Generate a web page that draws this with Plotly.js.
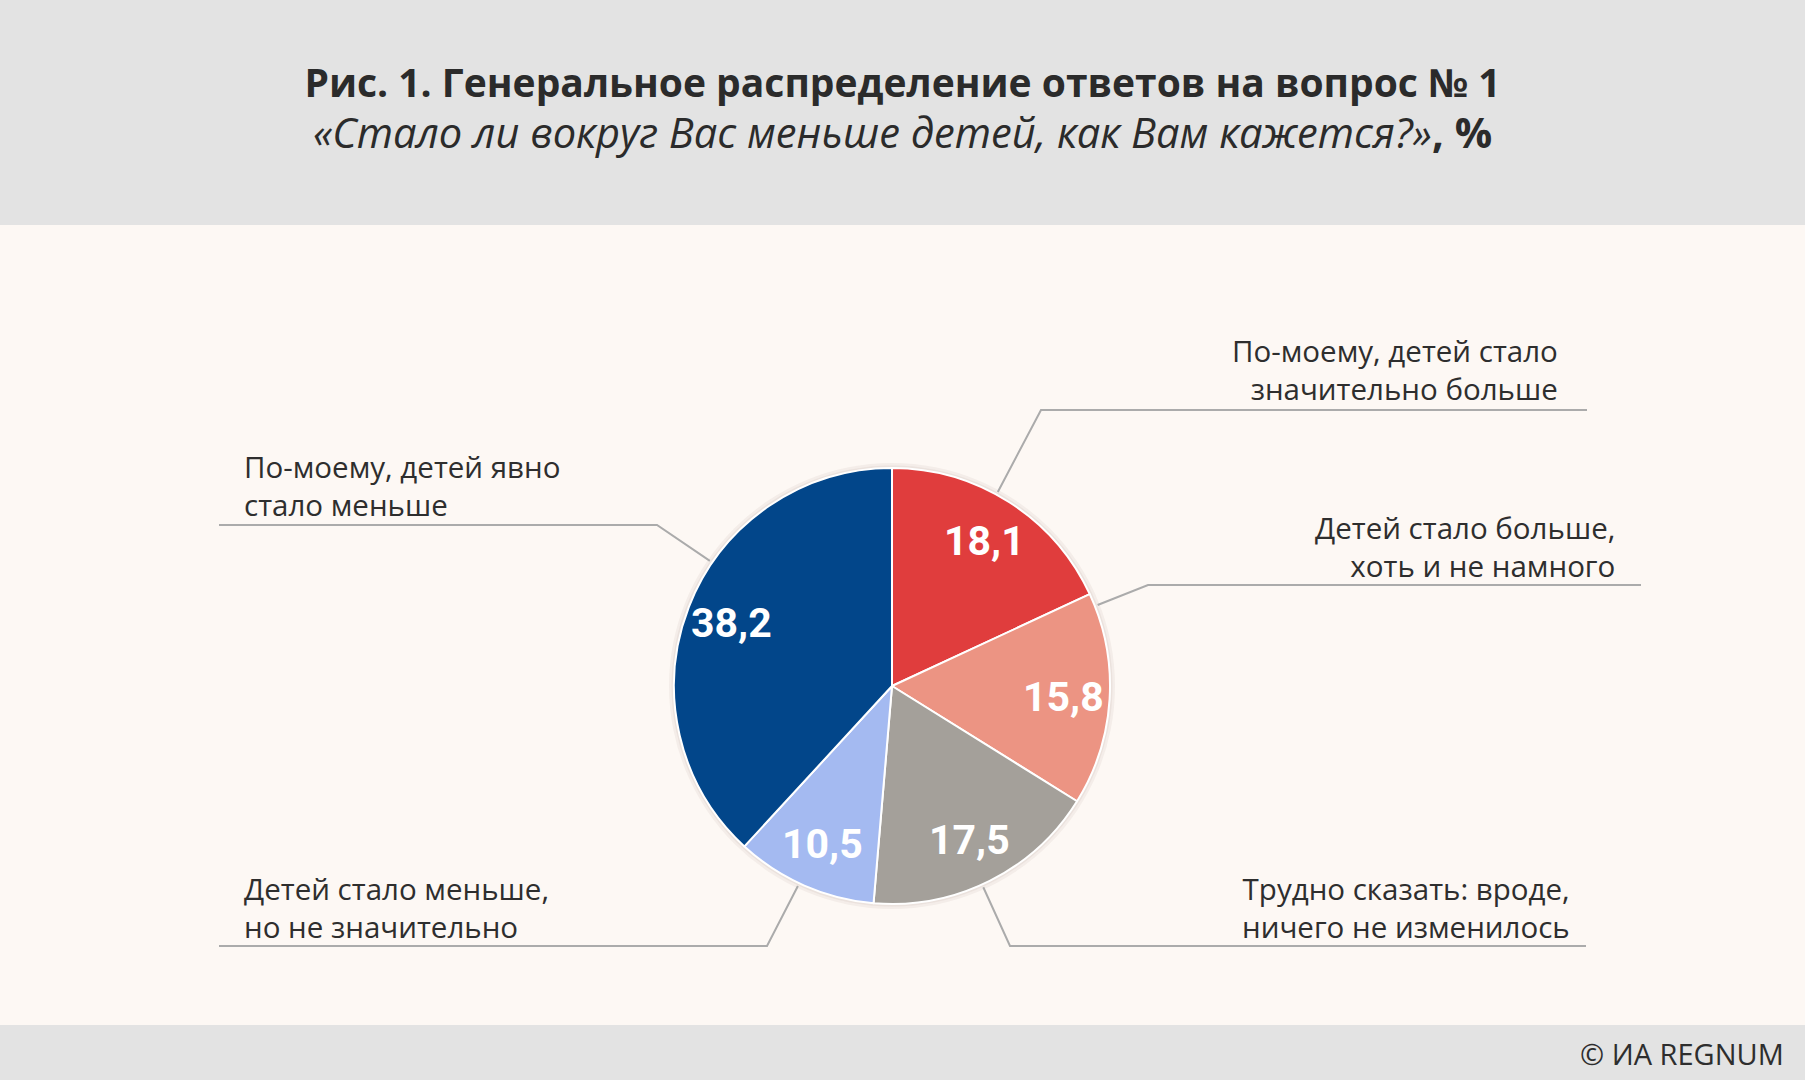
<!DOCTYPE html>
<html>
<head>
<meta charset="utf-8">
<script src="https://cdn.plot.ly/plotly-3.0.1.min.js"></script>
<style>
  html, body { margin: 0; padding: 0; background: #FDF8F4; }
  #chart { width: 1805px; height: 1080px; }
</style>
</head>
<body>
<div id="chart"></div>
<script>
// ---- data ----
const categories = [
  "По-моему, детей стало<br>значительно больше",
  "Детей стало больше,<br>хоть и не намного",
  "Трудно сказать: вроде,<br>ничего не изменилось",
  "Детей стало меньше,<br>но не значительно",
  "По-моему, детей явно<br>стало меньше"
];
const values = [18.1, 15.8, 17.5, 10.5, 38.2];
const colors = ["#E03D3D", "#EC9483", "#A4A09A", "#A4BAF1", "#02468A"];

const titleLine1 = "Рис. 1. Генеральное распределение ответов на вопрос № 1";
const titleLine2 = "«Стало ли вокруг Вас меньше детей, как Вам кажется?»";
const sourceText = "© ИА REGNUM";

// ---- layout helpers (pixels -> paper) ----
const W = 1805, H = 1080;
const px = x => x / W;
const py = y => 1 - y / H;
const cx = 892, cy = 686, R = 218;

// leader line styling: angle on the rim (deg, clockwise from top), elbow, end x, label anchor
const leaders = [
  { ang: 28.6,  elbow: [1041, 410], endX: 1587, lx: 1560, ly: 370, side: "right" },
  { ang: 68.5,  elbow: [1148, 585], endX: 1641, lx: 1617, ly: 546, side: "right" },
  { ang: 155.6, elbow: [1010, 946], endX: 1586, lx: 1572, ly: 907, side: "right" },
  { ang: 205.2, elbow: [767, 946],  endX: 219,  lx: 242,  ly: 907, side: "left" },
  { ang: 304.5, elbow: [657, 525],  endX: 219,  lx: 242,  ly: 485, side: "left" }
];
const labelFont = { family: "Open Sans, sans-serif", size: 29.5, color: "#2E2E2E" };

const shapes = [
  { type: "rect", xref: "paper", yref: "paper", x0: 0, x1: 1, y0: py(225), y1: 1,
    fillcolor: "#E3E3E3", line: { width: 0 }, layer: "below" },
  { type: "rect", xref: "paper", yref: "paper", x0: 0, x1: 1, y0: 0, y1: py(1025),
    fillcolor: "#E3E3E3", line: { width: 0 }, layer: "below" },
  { type: "circle", xref: "paper", yref: "paper",
    x0: px(cx - R - 5), x1: px(cx + R + 5), y0: py(cy + R + 5), y1: py(cy - R - 5),
    fillcolor: "rgba(170,150,140,0.10)", line: { width: 0 }, layer: "below" },
  { type: "circle", xref: "paper", yref: "paper",
    x0: px(cx - R - 2.5), x1: px(cx + R + 2.5), y0: py(cy + R + 2.5), y1: py(cy - R - 2.5),
    fillcolor: "rgba(170,150,140,0.12)", line: { width: 0 }, layer: "below" }
];

const annotations = [];
leaders.forEach((l, i) => {
  const a = l.ang * Math.PI / 180;
  const r = R + 3;
  const sx = cx + r * Math.sin(a), sy = cy - r * Math.cos(a);
  shapes.push({
    type: "path", xref: "paper", yref: "paper",
    path: `M ${px(sx)},${py(sy)} L ${px(l.elbow[0])},${py(l.elbow[1])} L ${px(l.endX)},${py(l.elbow[1])}`,
    line: { color: "#ABABAB", width: 2 }
  });
  annotations.push({
    xref: "paper", yref: "paper", x: px(l.lx), y: py(l.ly),
    xanchor: l.side === "right" ? "right" : "left", yanchor: "middle",
    align: l.side === "right" ? "right" : "left",
    text: categories[i], showarrow: false, font: labelFont
  });
});

// value labels inside slices, placed along each slice's mid-angle
const total = values.reduce((s, v) => s + v, 0);
let cum = 0;
values.forEach(v => {
  const mid = (cum + v / 2) / total * 2 * Math.PI;
  cum += v;
  const rr = 0.79 * R;
  annotations.push({
    xref: "paper", yref: "paper",
    x: px(cx + rr * Math.sin(mid)), y: py(cy - rr * Math.cos(mid)),
    xanchor: "center", yanchor: "middle", showarrow: false,
    text: v.toFixed(1).replace(".", ","),
    font: { family: "Roboto, sans-serif", size: 41, color: "#FFFFFF", weight: 700 }
  });
});

annotations.push({
  xref: "paper", yref: "paper", x: px(1786), y: py(1053),
  xanchor: "right", yanchor: "middle", text: sourceText, showarrow: false,
  font: { family: "Open Sans, sans-serif", size: 29, color: "#2E2E2E" }
});

const trace = {
  type: "pie",
  values: values,
  labels: categories,
  sort: false,
  direction: "clockwise",
  rotation: 0,
  marker: { colors: colors, line: { color: "#FFFFFF", width: 2 } },
  textinfo: "none",
  hoverinfo: "skip",
  showlegend: false,
  domain: { x: [px(cx - R), px(cx + R)], y: [py(cy + R), py(cy - R)] }
};

const layout = {
  width: W, height: H,
  margin: { l: 0, r: 0, t: 0, b: 0 },
  paper_bgcolor: "#FDF8F4",
  plot_bgcolor: "#FDF8F4",
  separators: ", ",
  showlegend: false,
  title: {
    text: "<b>" + titleLine1 + "</b><br><span style='font-size:41.6px'><i>" + titleLine2 + "</i><b>, %</b></span>",
    x: 0.5, xanchor: "center", xref: "paper",
    y: py(97), yanchor: "middle", yref: "container",
    font: { family: "Open Sans, sans-serif", size: 39, color: "#2B2B2B" }
  },
  shapes: shapes,
  annotations: annotations
};

Plotly.newPlot("chart", [trace], layout, { displayModeBar: false, staticPlot: true });
</script>
</body>
</html>
